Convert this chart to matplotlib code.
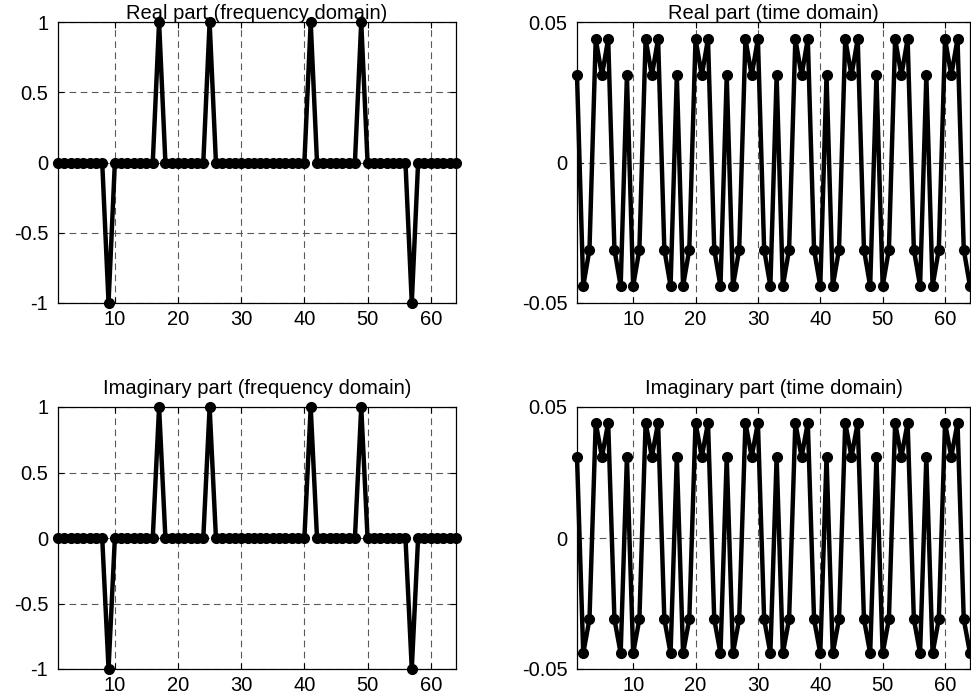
import matplotlib
matplotlib.use("Agg")
import matplotlib.pyplot as plt

plt.rcParams['font.family'] = ['Liberation Sans', 'DejaVu Sans']

n = list(range(1, 65))

freq_real = [0, 0, 0, 0, 0, 0, 0, 0, -1, 0, 0, 0, 0, 0, 0, 0,
             1, 0, 0, 0, 0, 0, 0, 0, 1, 0, 0, 0, 0, 0, 0, 0,
             0, 0, 0, 0, 0, 0, 0, 0, 1, 0, 0, 0, 0, 0, 0, 0,
             1, 0, 0, 0, 0, 0, 0, 0, -1, 0, 0, 0, 0, 0, 0, 0]
freq_imag = list(freq_real)

time_real = [0.031, -0.044, -0.031, 0.044, 0.031, 0.044, -0.031, -0.044,
             0.031, -0.044, -0.031, 0.044, 0.031, 0.044, -0.031, -0.044,
             0.031, -0.044, -0.031, 0.044, 0.031, 0.044, -0.031, -0.044,
             0.031, -0.044, -0.031, 0.044, 0.031, 0.044, -0.031, -0.044,
             0.031, -0.044, -0.031, 0.044, 0.031, 0.044, -0.031, -0.044,
             0.031, -0.044, -0.031, 0.044, 0.031, 0.044, -0.031, -0.044,
             0.031, -0.044, -0.031, 0.044, 0.031, 0.044, -0.031, -0.044,
             0.031, -0.044, -0.031, 0.044, 0.031, 0.044, -0.031, -0.044]
time_imag = list(time_real)

titles = ["Real part (frequency domain)", "Real part (time domain)",
          "Imaginary part (frequency domain)", "Imaginary part (time domain)"]
xticks = [10, 20, 30, 40, 50, 60]
freq_yticks = [-1, -0.5, 0, 0.5, 1]
freq_ylabels = ["-1", "-0.5", "0", "0.5", "1"]
time_yticks = [-0.05, 0, 0.05]
time_ylabels = ["-0.05", "0", "0.05"]

fig = plt.figure(figsize=(9.71, 6.97), dpi=100)
W, H = 971, 697
def pos(x0, y0, x1, y1):
    return [x0 / W, (H - y1) / H, (x1 - x0) / W, (y1 - y0) / H]

positions = [pos(58, 22, 456, 303), pos(577, 22, 970, 303),
             pos(58, 407, 456, 669), pos(577, 407, 970, 669)]
datasets = [freq_real, time_real, freq_imag, time_imag]
title_pads = [2.0, 2.0, 9.5, 9.5]

for i, (p, d, t) in enumerate(zip(positions, datasets, titles)):
    ax = fig.add_axes(p)
    ax.plot(n, d, color='black', lw=3.2, marker='o', markersize=7,
            clip_on=False, zorder=3)
    ax.set_xlim(1, 64)
    ax.set_xticks(xticks)
    ax.set_xticklabels([str(v) for v in xticks])
    if i % 2 == 0:
        ax.set_ylim(-1, 1)
        ax.set_yticks(freq_yticks)
        ax.set_yticklabels(freq_ylabels)
    else:
        ax.set_ylim(-0.05, 0.05)
        ax.set_yticks(time_yticks)
        ax.set_yticklabels(time_ylabels)
    ax.set_title(t, fontsize=14.5, pad=title_pads[i])
    ax.grid(True, color='0.35', linestyle=(0, (6, 4)), linewidth=0.8)
    ax.tick_params(direction='in', top=True, right=True, length=4,
                   labelsize=14.5, width=0.8)
    ax.tick_params(axis='y', pad=7)
    ax.tick_params(axis='x', pad=5)
    for s in ax.spines.values():
        s.set_linewidth(0.9)

fig.savefig("out.png", dpi=100)
